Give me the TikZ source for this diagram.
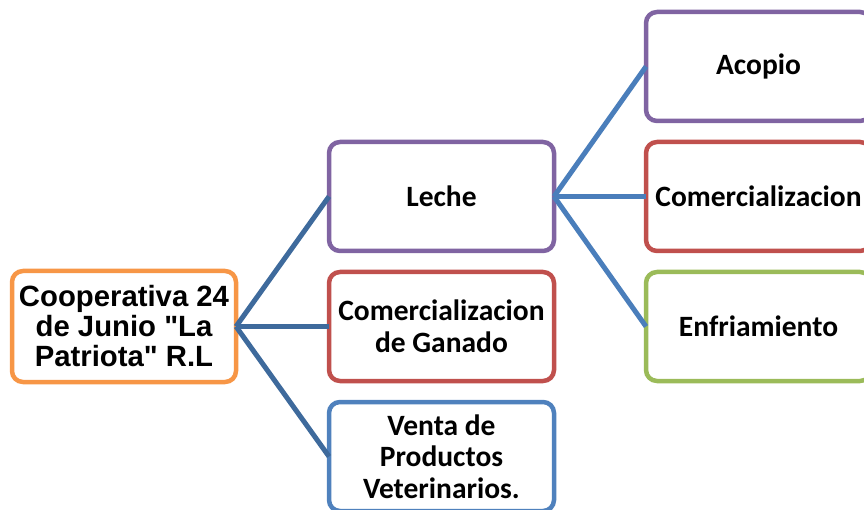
\documentclass[tikz,border=0pt]{standalone}
\usepackage{fontspec}
\setmainfont{Carlito}
\newfontfamily\arialfont{Liberation Sans}
\usepackage{tikz}
\usetikzlibrary{positioning}

\definecolor{orgorange}{HTML}{F79646}
\definecolor{orgpurple}{HTML}{8064A2}
\definecolor{orgred}{HTML}{C0504D}
\definecolor{orggreen}{HTML}{9BBB59}
\definecolor{orgblue}{HTML}{4F81BD}
\definecolor{linkdark}{HTML}{3E6A9C}
\definecolor{linklight}{HTML}{4A7EBB}

\begin{document}
\begin{tikzpicture}[x=1pt,y=1pt,
  font=\bfseries\fontsize{29.5}{31.5}\selectfont,
  box/.style={draw,line width=4.5pt,rounded corners=11pt,fill=white,outer sep=0pt,
    inner sep=0pt,minimum width=225pt,minimum height=109pt,align=center},
  link/.style={line width=5pt}]
  \clip (0,0) rectangle (864,-510);
  \node[box,draw=orgorange,minimum width=224pt,minimum height=111pt,
    font=\arialfont\bfseries\fontsize{29.3}{30}\selectfont] (coop) at (124,-326.5)
    {Cooperativa 24\\de Junio "La\\Patriota" R.L};

  \node[box,draw=orgred,right=93pt of coop] (ganado) {Comercializacion\\de Ganado};
  \node[box,draw=orgpurple,above=21pt of ganado] (leche) {Leche};
  \node[box,draw=orgblue,below=21pt of ganado] (venta) {Venta de\\Productos\\Veterinarios.};

  \node[box,draw=orggreen,right=92pt of ganado] (frio) {Enfriamiento};
  \node[box,draw=orgred,above=21pt of frio] (comer) {Comercializacion};
  \node[box,draw=orgpurple,above=21pt of comer] (acopio) {Acopio};

  \draw[link,linkdark] (coop.east) -- (leche.west);
  \draw[link,linkdark] (coop.east) -- (ganado.west);
  \draw[link,linkdark] (coop.east) -- (venta.west);
  \draw[link,linklight] (leche.east) -- (acopio.west);
  \draw[link,linklight] (leche.east) -- (comer.west);
  \draw[link,linklight] (leche.east) -- (frio.west);
\end{tikzpicture}
\end{document}
